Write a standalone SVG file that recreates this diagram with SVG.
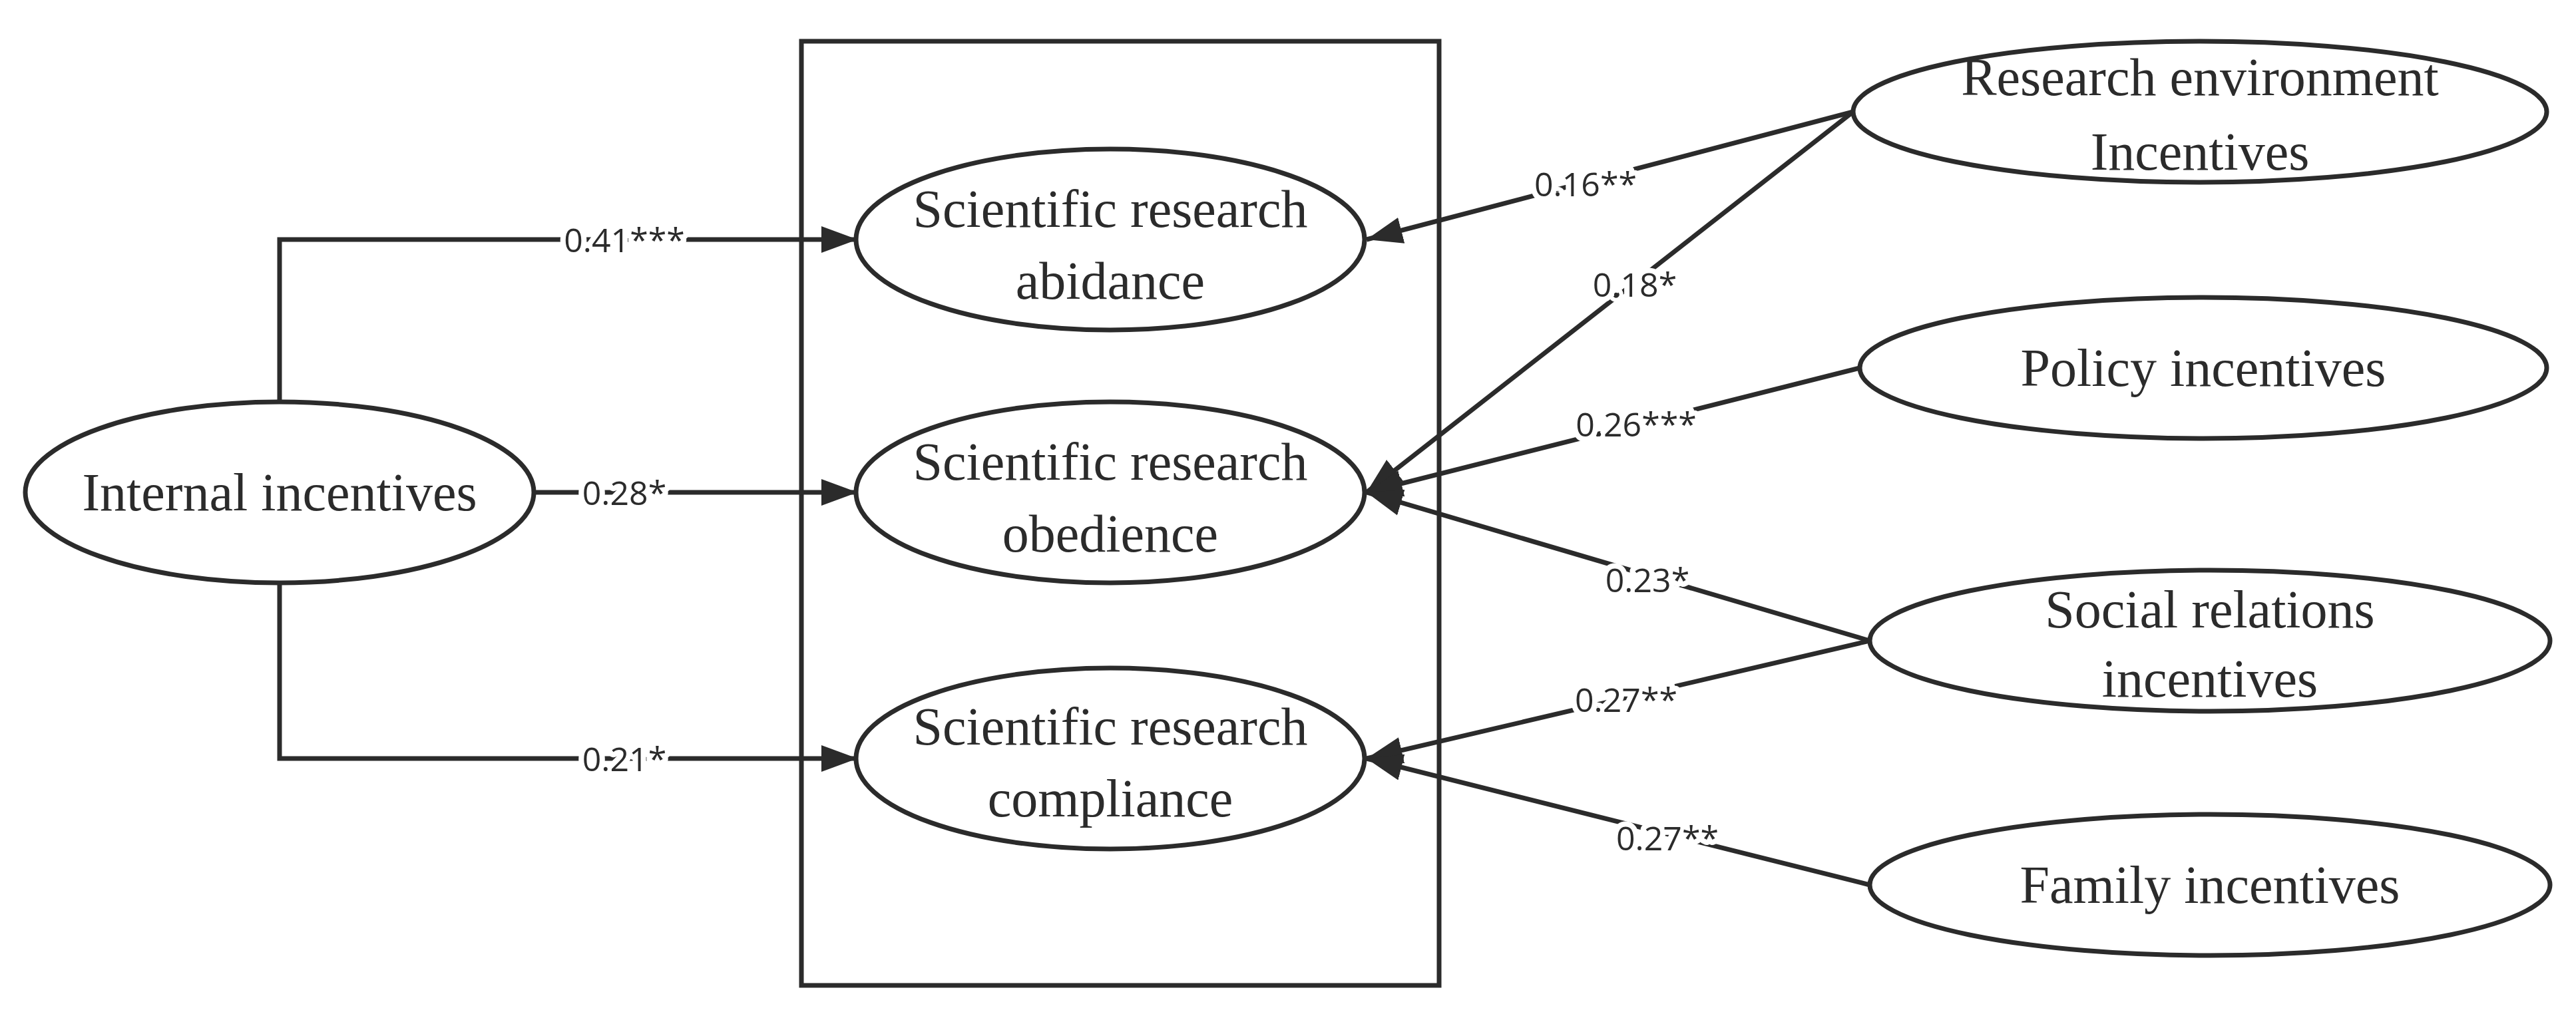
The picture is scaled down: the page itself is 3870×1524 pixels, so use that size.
<svg xmlns="http://www.w3.org/2000/svg" width="3870" height="1524" viewBox="0 0 3870 1524">
<style>
.n{fill:#fff;stroke:#2b2b2b;stroke-width:7}
.t{font-family:"Liberation Serif",serif;font-size:80px;fill:#2b2b2b;text-anchor:middle;dominant-baseline:central}
.c{fill:none;stroke:#2b2b2b;stroke-width:7}
.l{font-family:"Open Sans",sans-serif;font-size:50px;fill:#2b2b2b;text-anchor:middle;dominant-baseline:central;stroke:#fff;stroke-width:16;paint-order:stroke;stroke-linejoin:round}
</style>
<defs>
<marker id="a" markerUnits="userSpaceOnUse" markerWidth="60" markerHeight="50" refX="54" refY="20" orient="auto" viewBox="0 0 60 40">
<path d="M0,0 L54,20 L0,40 Z" fill="#2b2b2b"/>
</marker>
</defs>
<rect width="3870" height="1524" fill="#fff"/>
<rect id="box" x="1204" y="62" width="958" height="1419" fill="none" stroke="#2b2b2b" stroke-width="7"/>
<g id="connectors">
<path class="c" d="M420,604 V360 H1288" marker-end="url(#a)"/>
<path class="c" d="M800,740 H1288" marker-end="url(#a)"/>
<path class="c" d="M420,876 V1140 H1288" marker-end="url(#a)"/>
<path class="c" d="M2784,168 L2053,360" marker-end="url(#a)"/>
<path class="c" d="M2784,168 L2053,740" marker-end="url(#a)"/>
<path class="c" d="M2794,553 L2053,740" marker-end="url(#a)"/>
<path class="c" d="M2809,963 L2053,740" marker-end="url(#a)"/>
<path class="c" d="M2809,963 L2053,1140" marker-end="url(#a)"/>
<path class="c" d="M2809,1330 L2053,1140" marker-end="url(#a)"/>
<text class="l" x="938" y="360">0.41***</text>
<text class="l" x="938" y="740">0.28*</text>
<text class="l" x="938" y="1140">0.21*</text>
<text class="l" x="2382" y="276">0.16**</text>
<text class="l" x="2456" y="427">0.18*</text>
<text class="l" x="2458" y="637">0.26***</text>
<text class="l" x="2475" y="871">0.23*</text>
<text class="l" x="2443" y="1051">0.27**</text>
<text class="l" x="2505" y="1259">0.27**</text>
</g>
<g id="internal"><ellipse class="n" cx="420" cy="740" rx="382" ry="136"/><text class="t" x="420" y="740">Internal incentives</text></g>
<g id="abidance"><ellipse class="n" cx="1668" cy="360" rx="382" ry="136"/><text class="t" x="1668" y="314">Scientific research</text><text class="t" x="1668" y="422">abidance</text></g>
<g id="obedience"><ellipse class="n" cx="1668" cy="740" rx="382" ry="136"/><text class="t" x="1668" y="694">Scientific research</text><text class="t" x="1668" y="802">obedience</text></g>
<g id="compliance"><ellipse class="n" cx="1668" cy="1140" rx="382" ry="136"/><text class="t" x="1668" y="1092">Scientific research</text><text class="t" x="1668" y="1200">compliance</text></g>
<g id="env"><ellipse class="n" cx="3305" cy="168" rx="521" ry="106"/><text class="t" x="3305" y="116">Research environment</text><text class="t" x="3305" y="228">Incentives</text></g>
<g id="policy"><ellipse class="n" cx="3310" cy="553" rx="516" ry="106"/><text class="t" x="3310" y="553">Policy incentives</text></g>
<g id="social"><ellipse class="n" cx="3320" cy="963" rx="511" ry="106"/><text class="t" x="3320" y="916">Social relations</text><text class="t" x="3320" y="1020">incentives</text></g>
<g id="family"><ellipse class="n" cx="3320" cy="1330" rx="511" ry="106"/><text class="t" x="3320" y="1330">Family incentives</text></g>
</svg>
